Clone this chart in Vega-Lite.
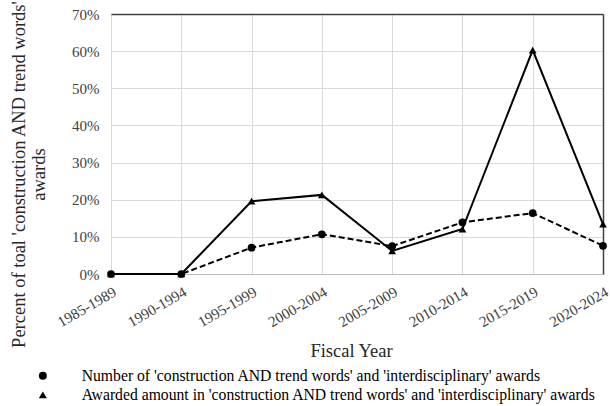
{
  "$schema": "https://vega.github.io/schema/vega-lite/v6.json",
  "width": 492,
  "height": 260,
  "autosize": {"type": "none"},
  "padding": {"left": 111, "top": 14, "right": 7, "bottom": 132},
  "background": "white",
  "config": {
    "font": "Liberation Serif",
    "view": {"stroke": null},
    "style": {"guide-label": {"font": "Liberation Serif"}, "guide-title": {"font": "Liberation Serif"}}
  },
  "data": {
    "values": [
      {"period": "1985-1989", "series": "Number  of 'construction AND trend words' and 'interdisciplinary' awards", "pct": 0},
      {"period": "1990-1994", "series": "Number  of 'construction AND trend words' and 'interdisciplinary' awards", "pct": 0},
      {"period": "1995-1999", "series": "Number  of 'construction AND trend words' and 'interdisciplinary' awards", "pct": 0.071},
      {"period": "2000-2004", "series": "Number  of 'construction AND trend words' and 'interdisciplinary' awards", "pct": 0.107},
      {"period": "2005-2009", "series": "Number  of 'construction AND trend words' and 'interdisciplinary' awards", "pct": 0.075},
      {"period": "2010-2014", "series": "Number  of 'construction AND trend words' and 'interdisciplinary' awards", "pct": 0.139},
      {"period": "2015-2019", "series": "Number  of 'construction AND trend words' and 'interdisciplinary' awards", "pct": 0.164},
      {"period": "2020-2024", "series": "Number  of 'construction AND trend words' and 'interdisciplinary' awards", "pct": 0.076},
      {"period": "1985-1989", "series": "Awarded amount  in 'construction AND trend words' and 'interdisciplinary' awards", "pct": 0},
      {"period": "1990-1994", "series": "Awarded amount  in 'construction AND trend words' and 'interdisciplinary' awards", "pct": 0},
      {"period": "1995-1999", "series": "Awarded amount  in 'construction AND trend words' and 'interdisciplinary' awards", "pct": 0.196},
      {"period": "2000-2004", "series": "Awarded amount  in 'construction AND trend words' and 'interdisciplinary' awards", "pct": 0.213},
      {"period": "2005-2009", "series": "Awarded amount  in 'construction AND trend words' and 'interdisciplinary' awards", "pct": 0.062},
      {"period": "2010-2014", "series": "Awarded amount  in 'construction AND trend words' and 'interdisciplinary' awards", "pct": 0.121},
      {"period": "2015-2019", "series": "Awarded amount  in 'construction AND trend words' and 'interdisciplinary' awards", "pct": 0.603},
      {"period": "2020-2024", "series": "Awarded amount  in 'construction AND trend words' and 'interdisciplinary' awards", "pct": 0.134}
    ]
  },
  "layer": [
    {
      "transform": [{"filter": {"field": "series", "equal": "Number  of 'construction AND trend words' and 'interdisciplinary' awards"}}],
      "mark": {"type": "line", "color": "black", "strokeWidth": 2, "strokeDash": [6, 3]},
      "encoding": {
        "x": {
          "field": "period", "type": "ordinal", "sort": null,
          "scale": {"type": "point", "padding": 0},
          "axis": {
            "orient": "bottom", "labelAngle": -30, "labelFont": "Liberation Serif", "labelFontSize": 15, "labelColor": "#404040",
            "labelPadding": 10, "ticks": false, "domainColor": "#bfbfbf", "domainWidth": 1,
            "grid": true, "gridColor": "#d9d9d9", "labelOverlap": false,
            "title": "Fiscal Year", "titleFont": "Liberation Serif", "titleFontSize": 18.5, "titleFontWeight": "normal", "titleColor": "#262626",
            "titleX": 240, "titleY": 82, "titleBaseline": "alphabetic"
          }
        },
        "y": {
          "field": "pct", "type": "quantitative",
          "scale": {"domain": [0, 0.7], "nice": false},
          "axis": {
            "orient": "left", "format": ".0%", "values": [0, 0.1, 0.2, 0.3, 0.4, 0.5, 0.6, 0.7],
            "labelFont": "Liberation Serif", "labelFontSize": 15, "labelColor": "#404040", "labelPadding": 12, "ticks": false, "domain": false,
            "grid": true, "gridColor": "#d9d9d9",
            "title": ["Percent of toal 'construction AND trend words'", "awards"],
            "titleFont": "Liberation Serif", "titleFontSize": 18.5, "titleFontWeight": "normal", "titleColor": "#262626",
            "titleAngle": -90, "titleX": -102, "titleY": 160, "titleBaseline": "top", "titleAlign": "center", "titleLineHeight": 20
          }
        }
      }
    },
    {
      "transform": [{"filter": {"field": "series", "equal": "Awarded amount  in 'construction AND trend words' and 'interdisciplinary' awards"}}],
      "mark": {"type": "line", "color": "black", "strokeWidth": 2},
      "encoding": {
        "x": {"field": "period", "type": "ordinal", "sort": null, "axis": null},
        "y": {"field": "pct", "type": "quantitative", "axis": null}
      }
    },
    {
      "mark": {"type": "point", "filled": true, "color": "black", "opacity": 1, "size": 60},
      "encoding": {
        "x": {
          "field": "period", "type": "ordinal", "sort": null,
          "axis": {"orient": "top", "labels": false, "ticks": false, "grid": false, "domainColor": "#404040", "domainWidth": 1.5, "title": null}
        },
        "y": {
          "field": "pct", "type": "quantitative",
          "axis": {"orient": "right", "labels": false, "ticks": false, "grid": false, "domainColor": "#404040", "domainWidth": 1.5, "title": null}
        },
        "shape": {
          "field": "series", "type": "nominal",
          "scale": {
            "domain": ["Number  of 'construction AND trend words' and 'interdisciplinary' awards", "Awarded amount  in 'construction AND trend words' and 'interdisciplinary' awards"],
            "range": ["circle", "triangle-up"]
          },
          "legend": {
            "orient": "none", "legendX": -76, "legendY": 354, "direction": "vertical", "title": null,
            "labelFont": "Liberation Serif", "labelFontSize": 15.7, "labelColor": "black", "labelLimit": 1000,
            "labelOffset": 31, "rowPadding": 2, "padding": 0, "symbolSize": 64,
            "symbolFillColor": "black", "symbolStrokeColor": "black",
            "encode": {
              "symbols": {
                "shape": {"signal": "indexof(datum.value, 'Awarded') === 0 ? 'M-1.75,0H9.75M4,-1.15L5.2,0.95L2.8,0.95Z' : 'M-1.75,0H9.75M4.875,0A0.875,0.875,0,1,1,3.125,0A0.875,0.875,0,1,1,4.875,0Z'"},
                "strokeDash": {"signal": "indexof(datum.value, 'Awarded') === 0 ? [1, 0] : [5, 3]"},
                "fill": {"value": "black"},
                "stroke": {"value": "black"},
                "strokeWidth": {"value": 1.5},
                "size": {"value": 64},
                "opacity": {"value": 1}
              }
            }
          }
        }
      }
    }
  ],
  "resolve": {"axis": {"x": "independent", "y": "independent"}}
}
